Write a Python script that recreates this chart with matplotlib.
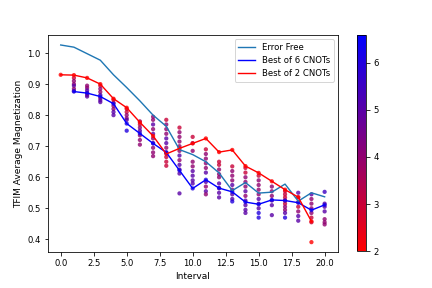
import matplotlib
matplotlib.use("Agg")
import matplotlib.pyplot as plt
import numpy as np
from matplotlib.colors import LinearSegmentedColormap

intervals = list(range(21))

error_free = [1.026, 1.019, 0.998, 0.977, 0.930, 0.889, 0.846, 0.800, 0.764, 0.689,
              0.673, 0.650, 0.614, 0.557, 0.583, 0.549, 0.552, 0.578, 0.523, 0.550, 0.537]

best2_x = list(range(20))
best2 = [0.930, 0.929, 0.920, 0.900, 0.853, 0.824, 0.777, 0.733, 0.675, 0.693,
         0.709, 0.725, 0.681, 0.688, 0.636, 0.614, 0.587, 0.560, 0.536, 0.458]

best6_x = list(range(1, 21))
best6 = [0.876, 0.871, 0.860, 0.837, 0.773, 0.741, 0.709, 0.680, 0.622, 0.564,
         0.592, 0.565, 0.553, 0.520, 0.513, 0.527, 0.525, 0.518, 0.494, 0.511]

# scatter results for intervals 1..20 : magnetization values and CNOT counts
scatter_y = [
    [0.920, 0.910, 0.900, 0.895, 0.885, 0.878],
    [0.895, 0.888, 0.880, 0.872, 0.865, 0.860],
    [0.895, 0.885, 0.875, 0.865, 0.855, 0.848, 0.842],
    [0.850, 0.840, 0.830, 0.820, 0.810, 0.800],
    [0.820, 0.810, 0.800, 0.790, 0.785, 0.750],
    [0.780, 0.770, 0.760, 0.750, 0.735, 0.720, 0.705],
    [0.795, 0.785, 0.770, 0.755, 0.740, 0.725, 0.710, 0.695, 0.680, 0.668],
    [0.785, 0.770, 0.755, 0.740, 0.725, 0.710, 0.695, 0.680, 0.665, 0.650, 0.637],
    [0.760, 0.745, 0.730, 0.715, 0.700, 0.685, 0.670, 0.655, 0.640, 0.625, 0.612, 0.548],
    [0.730, 0.710, 0.685, 0.650, 0.635, 0.620, 0.605, 0.590, 0.580],
    [0.690, 0.675, 0.660, 0.645, 0.630, 0.615, 0.585, 0.570, 0.555, 0.545],
    [0.650, 0.640, 0.625, 0.610, 0.600, 0.580, 0.565, 0.550, 0.535],
    [0.635, 0.620, 0.605, 0.590, 0.575, 0.560, 0.545, 0.530, 0.522],
    [0.630, 0.615, 0.600, 0.585, 0.570, 0.555, 0.540, 0.525, 0.510, 0.495, 0.485],
    [0.605, 0.590, 0.575, 0.560, 0.545, 0.530, 0.515, 0.500, 0.485, 0.470],
    [0.570, 0.555, 0.540, 0.525, 0.510, 0.478],
    [0.555, 0.545, 0.535, 0.525, 0.515, 0.505, 0.495, 0.485, 0.470],
    [0.550, 0.535, 0.520, 0.505, 0.490, 0.475, 0.460],
    [0.545, 0.530, 0.515, 0.500, 0.485, 0.470, 0.455, 0.391],
    [0.553, 0.515, 0.505, 0.490, 0.465, 0.455, 0.448],
]
scatter_c = [
    [3, 4, 4, 5, 4, 5],
    [4, 4, 5, 5, 4, 5],
    [3, 4, 4, 5, 4, 5, 5],
    [3, 3, 4, 4, 5, 5],
    [3, 3, 4, 4, 5, 6],
    [4, 3, 4, 5, 4, 4, 4],
    [4, 4, 5, 4, 5, 4, 5, 4, 4, 4],
    [3, 4, 4, 4, 5, 5, 4, 5, 3, 3, 3],
    [3, 4, 4, 4, 4, 4, 5, 4, 5, 5, 5, 5],
    [3, 4, 4, 4, 4, 5, 5, 5, 5],
    [3, 4, 4, 4, 4, 5, 5, 4, 5, 4],
    [3, 3, 4, 4, 4, 5, 4, 5, 5],
    [3, 4, 4, 4, 5, 4, 5, 5, 6],
    [3, 3, 4, 4, 4, 5, 4, 5, 5, 5, 5],
    [3, 4, 4, 4, 4, 5, 5, 5, 6, 6],
    [4, 4, 4, 5, 5, 5],
    [3, 3, 3, 3, 3, 4, 4, 5, 6],
    [5, 4, 3, 3, 4, 5, 5],
    [5, 4, 4, 4, 4, 3, 3, 2],
    [5.5, 5, 5, 5, 4, 4, 4],
]

cnot_min, cnot_max = 2, 6.6
cnot_ticks = [2, 3, 4, 5, 6]

cmap = LinearSegmentedColormap.from_list("rb", ["red", "blue"])

fig = plt.figure(figsize=(6, 4), dpi=72)
ax = fig.add_axes([0.110, 0.125, 0.672, 0.753])
cax = fig.add_axes([0.8257, 0.128, 0.0222, 0.752])

sx, sy, sc = [], [], []
for i, (ys, cs) in enumerate(zip(scatter_y, scatter_c)):
    sx += [i + 1] * len(ys)
    sy += ys
    sc += cs
sx += best2_x + best6_x
sy += best2 + best6
sc += [2] * len(best2) + [6] * len(best6)

sc_plot = ax.scatter(sx, sy, c=sc, cmap=cmap, vmin=cnot_min, vmax=cnot_max,
                     s=18, alpha=0.8, linewidths=0)

ax.plot(intervals, error_free, color="#1f77b4", lw=1.4, label="Error Free")
ax.plot(best6_x, best6, color="blue", lw=1.4, label="Best of 6 CNOTs")
ax.plot(best2_x, best2, color="red", lw=1.4, label="Best of 2 CNOTs")

ax.set_xlabel("Interval", fontsize=9)
ax.set_ylabel("TFIM Average Magnetization", fontsize=9)
ax.tick_params(labelsize=8.5)
ax.set_xticks([0, 2.5, 5, 7.5, 10, 12.5, 15, 17.5, 20])
ax.set_yticks([0.4, 0.5, 0.6, 0.7, 0.8, 0.9, 1.0])
ax.legend(loc="upper right", fontsize=8.5)

cb = fig.colorbar(sc_plot, cax=cax)
cb.set_ticks(cnot_ticks)
cb.ax.tick_params(labelsize=8.5)
cb.solids.set_alpha(1)

fig.savefig("out.png", dpi=72)
